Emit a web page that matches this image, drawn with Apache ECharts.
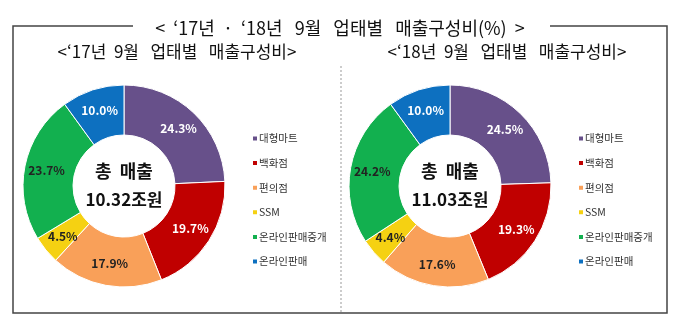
<!DOCTYPE html>
<html><head><meta charset="utf-8">
<script src="https://cdn.jsdelivr.net/npm/echarts@6/dist/echarts.min.js"></script>
<style>html,body{margin:0;padding:0;background:#fff}#c{width:680px;height:329px}</style>
</head><body><div id="c"></div>
<script>
const categories = ['대형마트','백화점','편의점','SSM','온라인판매중개','온라인판매'];
const values2017 = [24.3, 19.7, 17.9, 4.5, 23.7, 10.0];
const values2018 = [24.5, 19.3, 17.6, 4.4, 24.2, 10.0];
const totals = ['10.32조원', '11.03조원'];
const centerLabel = '총  매출';
const mainTitle = '<  ‘17년  ·  ‘18년   9월   업태별   매출구성비(%)  >';
const subTitles = ['<‘17년  9월   업태별   매출구성비>', '<‘18년  9월   업태별   매출구성비>'];
const colors = ['#67508A','#C00000','#F9A059','#F5D112','#12B04F','#0D70C0'];
const labelColors = ['#fff','#fff','#222','#222','#222','#fff'];
const FONT = 'Noto Sans CJK KR';

function mkData(vals){
  return categories.map((n,i)=>({name:n, value:vals[i],
    itemStyle:{color:colors[i]},
    label:{color:labelColors[i]}}));
}
function mkSeries(vals, cx){
  return {type:'pie', radius:[51,101], center:[cx,186], startAngle:90, clockwise:true,
    avoidLabelOverlap:false, silent:true, animation:false,
    itemStyle:{borderColor:'#fff', borderWidth:1},
    label:{show:true, position:'inside', fontFamily:FONT, fontWeight:'bold', fontSize:12,
      formatter:p=>p.value.toFixed(1)+'%'},
    labelLine:{show:false},
    data:mkData(vals)};
}
function mkLegend(left){
  return {orient:'vertical', left:left, top:128, icon:'rect', itemWidth:6, itemHeight:6,
    itemGap:13.6, data:categories, selectedMode:false,
    textStyle:{fontFamily:FONT, fontSize:10.5, color:'#333', lineHeight:11, padding:[0,0,0,-4]}};
}
const chart = echarts.init(document.getElementById('c'));
function txt(x,y,text,size,bold){
  return {type:'text', x:x, y:y, style:{text:text, fontFamily:FONT, fontWeight:bold?'bold':'normal',
    fontSize:size, fill:'#111', align:'center', verticalAlign:'middle'}};
}
chart.setOption({
  animation:false,
  legend:[mkLegend(246), mkLegend(572)],
  series:[mkSeries(values2017,124), mkSeries(values2018,450)],
  graphic:[
    {type:'polyline', shape:{points:[[133,26],[13,26],[13,313],[667,313],[667,26],[550,26]]}, style:{stroke:'#444',lineWidth:1.5,fill:null}},
    {type:'line', shape:{x1:341,y1:66,x2:341,y2:313}, style:{stroke:'#999',lineWidth:1,lineDash:[2,2]}},
    txt(340,28,mainTitle,18,false),
    txt(177,52,subTitles[0],17,false),
    txt(507,52,subTitles[1],17,false),
    txt(124,171,centerLabel,18,true),
    txt(124,200,totals[0],17,true),
    txt(450,171,centerLabel,18,true),
    txt(450,200,totals[1],17,true)
  ]
});
</script></body></html>
